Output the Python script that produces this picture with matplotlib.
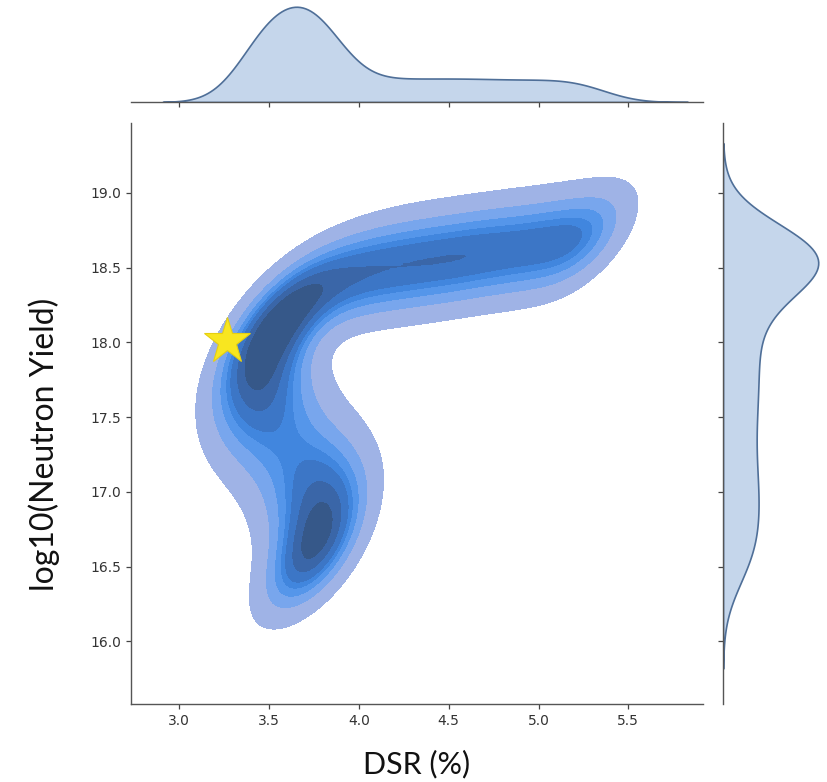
import matplotlib
matplotlib.use("Agg")
import matplotlib.pyplot as plt
from matplotlib.colors import ListedColormap
import pandas as pd
import seaborn as sns

# ridge of the joint distribution (DSR %, log10 yield)
ridge_x = [3.71, 3.76, 3.79, 3.77, 3.70, 3.60, 3.51, 3.46, 3.44, 3.45, 3.49, 3.55,
           3.64, 3.76, 3.90, 4.05, 4.21, 4.38, 4.56, 4.74, 4.92, 5.08, 5.22, 5.30]
ridge_y = [16.45, 16.62, 16.80, 16.98, 17.15, 17.32, 17.48, 17.63, 17.78, 17.93, 18.07, 18.19,
           18.29, 18.37, 18.43, 18.48, 18.51, 18.54, 18.57, 18.60, 18.63, 18.66, 18.68, 18.70]
ridge_w = [1.1, 1.4, 1.5, 1.45, 1.3, 1.15, 1.15, 1.2, 1.25, 1.15, 1.0, 0.9,
           0.8, 0.9, 1.0, 1.1, 1.2, 1.3, 1.35, 1.3, 1.2, 1.05, 0.85, 0.65]

star_x = 3.267
star_y = 18.01

xticks = [3.0, 3.5, 4.0, 4.5, 5.0, 5.5]
yticks = [16.0, 16.5, 17.0, 17.5, 18.0, 18.5, 19.0]

band_colors = ["#9fb3e6", "#78a6ed", "#5596ea", "#4186de", "#3c76c6",
               "#3a66a8", "#365889", "#334c73"]

df = pd.DataFrame({"dsr": ridge_x, "logy": ridge_y, "w": ridge_w})

W, H = 828, 782
fig = plt.figure(figsize=(W / 100, H / 100), dpi=100)
ax = fig.add_axes([130.7 / W, 1 - 704 / H, 572 / W, 581.3 / H])
ax_top = fig.add_axes([130.7 / W, 1 - 102 / H, 572 / W, 100 / H])
ax_right = fig.add_axes([723 / W, 1 - 704 / H, 100 / W, 581.3 / H])

# joint density
sns.kdeplot(data=df, x="dsr", y="logy", weights="w", fill=True, ax=ax,
            levels=len(band_colors) + 1, thresh=0.05, bw_adjust=0.5,
            cmap=ListedColormap(band_colors), gridsize=200)
ax.plot([star_x], [star_y], marker="*", markersize=35, color="#f8e620",
        markeredgecolor="#e6cf10", markeredgewidth=0.8, linestyle="none")

# marginals
sns.kdeplot(data=df, x="dsr", weights="w", fill=True, ax=ax_top, bw_adjust=0.55,
            color="#3b73b9", alpha=0.3)
sns.kdeplot(data=df, y="logy", weights="w", fill=True, ax=ax_right, bw_adjust=0.55,
            color="#3b73b9", alpha=0.3)
for a in (ax_top, ax_right):
    coll = a.collections[0]
    coll.set_facecolor("#c5d6eb")
    coll.set_edgecolor("#4f6f98")
    coll.set_linewidth(1.2)

ax.set_xlim(2.73, 5.914)
ax.set_ylim(15.58, 19.47)
ax.set_xticks(xticks)
ax.set_yticks(yticks)
ax_top.set_xlim(ax.get_xlim())
ax_top.set_xticks(xticks)
ax_top.set_ylim(bottom=0)
ax_right.set_ylim(ax.get_ylim())
ax_right.set_yticks(yticks)
ax_right.set_xlim(left=0)

for a, sides in ((ax, ["left", "bottom"]), (ax_top, ["bottom"]), (ax_right, ["left"])):
    for sd, s in a.spines.items():
        s.set_visible(sd in sides)
        s.set_color("#555555")
        s.set_linewidth(1.0)
    a.tick_params(length=3.5, width=0.9, color="#444444", labelcolor="#333333",
                  labelsize=10)

ax_top.tick_params(labelbottom=False, left=False, labelleft=False)
ax_right.tick_params(labelleft=False, bottom=False, labelbottom=False)
for a in (ax_top, ax_right):
    a.set_xlabel("")
    a.set_ylabel("")

ax.set_xlabel("DSR (%)", fontsize=22, family="Lato", color="#111111")
ax.set_ylabel("log10(Neutron Yield)", fontsize=23, family="Lato", color="#111111")
ax.xaxis.set_label_coords(0.5, -0.079)
ax.yaxis.set_label_coords(-0.124, 0.446)

fig.savefig("out.png", dpi=100)
